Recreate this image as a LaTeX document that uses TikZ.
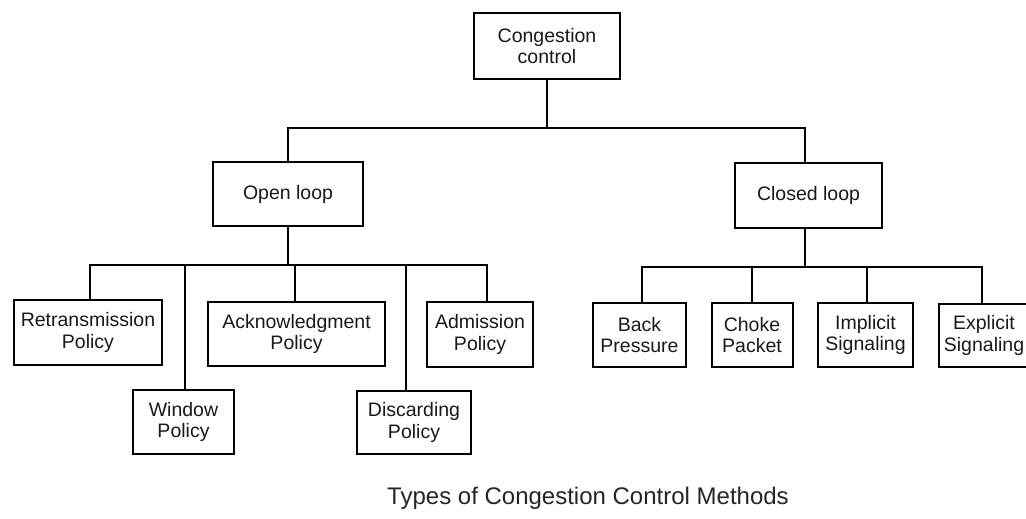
\documentclass[tikz,border=0pt]{standalone}
\usepackage{fontspec}
\setmainfont{Liberation Sans}
\begin{document}
\begin{tikzpicture}[x=1pt,y=-1pt,
  box/.style={draw, line width=2pt, inner sep=0pt, align=center,
              text=black!90, font=\fontsize{19.5}{21.5}\selectfont},
  link/.style={line width=2pt}]
\clip (0,0) rectangle (1026,519);
\fill[white] (0,0) rectangle (1026,519);

% root and the two loop kinds
\node[box, minimum width=146pt, minimum height=66pt] (cc) at (547,46) {Congestion\\control};
\node[box, minimum width=150pt, minimum height=64pt] (open) at (288,194) {Open loop};
\node[box, minimum width=147pt, minimum height=65pt] (closed) at (808.5,195.5) {Closed loop};

% open-loop policies
\node[box, minimum width=148pt, minimum height=65pt] (retr) at (88,332.5) {Retransmission\\Policy};
\node[box, minimum width=101pt, minimum height=64pt] (win)  at (183.5,422) {Window\\Policy};
\node[box, minimum width=177pt, minimum height=64pt] (ack)  at (296.5,334) {Acknowledgment\\Policy};
\node[box, minimum width=114pt, minimum height=63pt] (disc) at (414,422.5) {Discarding\\Policy};
\node[box, minimum width=106pt, minimum height=65pt] (adm)  at (480,334.5) {Admission\\Policy};

% closed-loop methods
\node[box, minimum width=93pt, minimum height=64pt] (back)  at (639.5,335) {Back\\Pressure};
\node[box, minimum width=81pt, minimum height=64pt] (choke) at (752,335) {Choke\\Packet};
\node[box, minimum width=95pt, minimum height=64pt] (impl)  at (865.5,335) {Implicit\\Signaling};
\node[box, minimum width=90pt, minimum height=63pt] (expl)  at (984,335.5) {Explicit\\Signaling};

% level one connectors
\coordinate (b1) at (547,128);
\draw[link] (cc.south) -- (b1);
\draw[link] (open.north) |- (b1) -| ([xshift=-3.5pt]closed.north);

% open-loop connectors
\coordinate (b2) at (288,265);
\draw[link] (open.south) -- (b2);
\draw[link] ([xshift=2pt]retr.north) |- (b2) -| ([xshift=7pt]adm.north);
\draw[link] ([xshift=1.5pt]win.north) -- ([xshift=1.5pt]win.north |- b2);
\draw[link] ([xshift=-1.5pt]ack.north) -- ([xshift=-1.5pt]ack.north |- b2);
\draw[link] ([xshift=-8pt]disc.north) -- ([xshift=-8pt]disc.north |- b2);

% closed-loop connectors
\coordinate (b3) at (805,267);
\draw[link] ([xshift=-3.5pt]closed.south) -- (b3);
\draw[link] ([xshift=2.5pt]back.north) |- (b3) -| ([xshift=-2pt]expl.north);
\draw[link] (choke.north) -- (choke.north |- b3);
\draw[link] ([xshift=1.5pt]impl.north) -- ([xshift=1.5pt]impl.north |- b3);

% caption
\node[anchor=base, inner sep=0pt, text=black!85, font=\fontsize{24}{26}\selectfont] (cap) at (588,504)
  {Types of Congestion Control Methods};
\end{tikzpicture}
\end{document}
